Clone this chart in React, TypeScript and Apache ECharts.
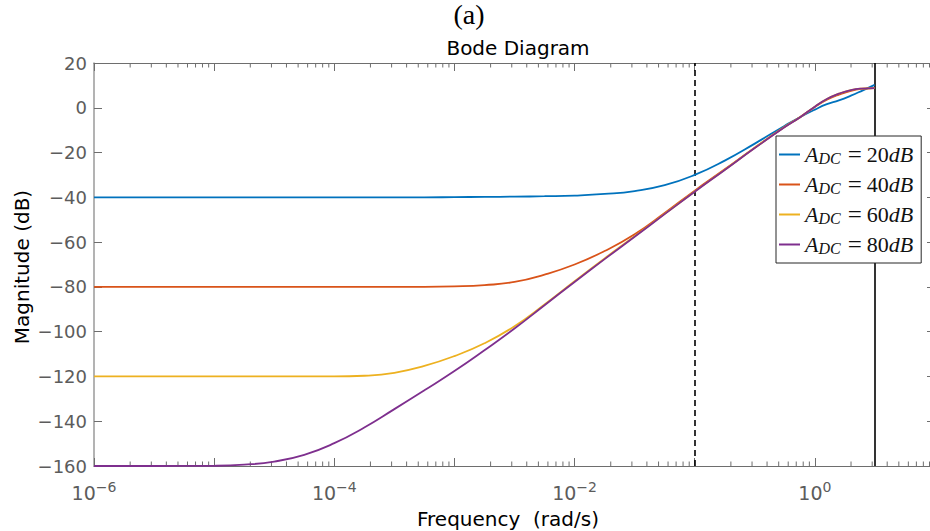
import React, { useEffect, useRef } from 'react';
import * as echarts from 'echarts';

// Frequencies (rad/s) at which magnitudes were read
const freq = [1e-6, 3.162e-6, 1e-5, 1.778e-5, 3.162e-5, 5.623e-5, 1e-4, 1.778e-4, 3.162e-4, 5.623e-4, 1e-3, 1.778e-3, 3.162e-3, 5.623e-3, 1e-2, 1.778e-2, 3.162e-2, 5.623e-2, 0.1, 0.1778, 0.3162, 0.5623, 0.75, 1, 1.259, 1.585, 1.995, 2.512, 3.1416];

const magA20 = [-40, -40, -40, -40, -40, -40, -40, -40, -40, -40, -39.9, -39.8, -39.7, -39.5, -39.2, -38.5, -37.2, -34.6, -30.0, -23.6, -16.0, -8.0, -4.2, -0.8, 1.6, 3.3, 5.4, 7.8, 10.2];
const magA40 = [-80, -80, -80, -80, -80, -80, -80, -80, -80, -80, -79.8, -79.2, -77.8, -74.5, -70.0, -64.0, -56.5, -47.0, -37.0, -27.5, -17.8, -8.5, -4.2, 0.4, 3.6, 5.9, 7.6, 8.5, 8.8];
const magA60 = [-120, -120, -120, -120, -120, -120, -120, -119.7, -118.4, -115.3, -110.9, -105.2, -97.6, -87.9, -77.5, -67.3, -57.4, -47.4, -37.4, -27.7, -17.9, -8.5, -4.3, 0.5, 3.9, 6.3, 7.9, 8.6, 8.8];
const magA80 = [-160, -160, -159.9, -159.4, -158.0, -155.0, -149.8, -142.8, -134.6, -126.2, -117.6, -108.3, -98.6, -88.2, -77.8, -67.6, -57.6, -47.5, -37.5, -27.8, -18.0, -8.6, -4.3, 0.5, 3.9, 6.3, 7.9, 8.6, 8.8];

const seriesNames = ['A_DC = 20dB', 'A_DC = 40dB', 'A_DC = 60dB', 'A_DC = 80dB'];
const seriesDcGains = ['20', '40', '60', '80'];
const seriesColors = ['#0072BD', '#D95319', '#EDB120', '#7E2F8E'];

const yTicks = [-160, -140, -120, -100, -80, -60, -40, -20, 0, 20];
const xMin = 1e-6;
const xMax = 10;
const dashedFreq = 0.1;
const nyquistFreq = Math.PI;

const minorTickFreqs: number[] = [];
for (let e = -6; e <= 0; e++) {
  for (let k = 2; k <= 9; k++) minorTickFreqs.push(k * Math.pow(10, e));
}

const SANS = 'DejaVu Sans';
const SERIF = 'Liberation Serif';
const AXIS_GRAY = '#6e6e6e';
const LABEL_GRAY = '#5c5c5c';

export default function App() {
  const ref = useRef<HTMLDivElement>(null);
  useEffect(() => {
    if (!ref.current) return;
    const chart = echarts.init(ref.current, undefined, { renderer: 'svg' });
    const allMags = [magA20, magA40, magA60, magA80];

    const lineSeries = allMags.map((mags, i) => ({
      name: seriesNames[i],
      type: 'line',
      xAxisIndex: 0,
      yAxisIndex: 0,
      data: freq.map((f, j) => [f, mags[j]]),
      showSymbol: false,
      symbol: 'none',
      smooth: 0.5,
      lineStyle: { color: seriesColors[i], width: 1.8 },
      itemStyle: { color: seriesColors[i] },
      z: 2 + i,
      ...(i === 0
        ? {
            markLine: {
              silent: true,
              symbol: 'none',
              z: 1,
              label: { show: false },
              data: [
                { xAxis: dashedFreq, lineStyle: { color: '#000', type: [6, 4], width: 1.6 } },
                { xAxis: nyquistFreq, lineStyle: { color: '#000', type: 'solid', width: 1.6 } },
              ],
            },
          }
        : {}),
    }));

    const minorTicks = {
      type: 'custom',
      silent: true,
      clip: false,
      xAxisIndex: 0,
      yAxisIndex: 0,
      data: minorTickFreqs.map((f) => [f]),
      renderItem: (params: any, api: any) => {
        const f = api.value(0);
        const pb = api.coord([f, yTicks[0]]);
        const pt = api.coord([f, yTicks[yTicks.length - 1]]);
        const st = { stroke: AXIS_GRAY, lineWidth: 1 };
        return {
          type: 'group',
          children: [
            { type: 'line', shape: { x1: pb[0], y1: pb[1], x2: pb[0], y2: pb[1] - 4.5 }, style: st },
            { type: 'line', shape: { x1: pt[0], y1: pt[1], x2: pt[0], y2: pt[1] + 4.5 }, style: st },
          ],
        };
      },
      z: 1,
    };

    const xLabelFmt = (v: number) => {
      const e = Math.round(Math.log10(v));
      if (e % 2 !== 0) return '';
      return `{b|10}{s|${e < 0 ? '−' : ''}${Math.abs(e)}}`;
    };

    const xAxisCommon = {
      type: 'log',
      logBase: 10,
      min: xMin,
      max: xMax,
      splitNumber: 7,
      splitLine: { show: false },
      axisTick: { show: true, inside: true, length: 8, lineStyle: { color: AXIS_GRAY, width: 1 } },
      axisLine: { show: true, onZero: false, lineStyle: { color: AXIS_GRAY, width: 1 } },
    };
    const yAxisCommon = {
      type: 'value',
      min: yTicks[0],
      max: yTicks[yTicks.length - 1],
      interval: 20,
      splitLine: { show: false },
      axisTick: { show: true, inside: true, length: 8, lineStyle: { color: AXIS_GRAY, width: 1 } },
    };

    chart.setOption({
      animation: false,
      backgroundColor: '#fff',
      grid: { left: 94, top: 63, width: 841, height: 403, containLabel: false, outerBoundsMode: 'none' },
      xAxis: [
        {
          ...xAxisCommon,
          position: 'bottom',
          axisLabel: {
            show: true,
            margin: 14,
            formatter: xLabelFmt,
            rich: {
              b: { fontFamily: SANS, fontSize: 19, color: LABEL_GRAY, lineHeight: 26 },
              s: { fontFamily: SANS, fontSize: 14, color: LABEL_GRAY, lineHeight: 12, verticalAlign: 'top' },
            },
          },
        },
        { ...xAxisCommon, position: 'top', axisLabel: { show: false } },
      ],
      yAxis: [
        {
          ...yAxisCommon,
          position: 'left',
          axisLine: { show: true, onZero: false, lineStyle: { color: '#9a9a9a', width: 1.5 } },
          axisLabel: {
            show: true,
            margin: 7,
            fontFamily: SANS,
            fontSize: 18,
            color: LABEL_GRAY,
            formatter: (v: number) => (v < 0 ? '−' + Math.abs(v) : String(v)),
          },
        },
        {
          ...yAxisCommon,
          position: 'right',
          axisLine: { show: true, onZero: false, lineStyle: { color: AXIS_GRAY, width: 1 } },
          axisLabel: { show: false },
        },
      ],
      legend: {
        show: true,
        orient: 'vertical',
        left: 776,
        top: 136,
        z: 10,
        padding: [6, 8, 6, 3],
        itemGap: 5,
        itemWidth: 21,
        itemHeight: 2,
        icon: 'rect',
        selectedMode: false,
        backgroundColor: '#fff',
        borderColor: '#262626',
        borderWidth: 1,
        borderRadius: 0,
        data: seriesNames,
        formatter: (name: string) => {
          const idx = seriesNames.indexOf(name);
          return `{i|A}{s|DC}{e|=}{n|${seriesDcGains[idx]}}{i|dB}`;
        },
        textStyle: {
          rich: {
            i: { fontFamily: SERIF, fontStyle: 'italic', fontSize: 22, lineHeight: 20, color: '#111' },
            s: { fontFamily: SERIF, fontStyle: 'italic', fontSize: 16, lineHeight: 20, padding: [8, 1, 0, 0], color: '#111' },
            e: { fontFamily: SERIF, fontSize: 25, lineHeight: 20, color: '#111', padding: [0, 5, 0, 6] },
            n: { fontFamily: SERIF, fontSize: 22, lineHeight: 20, color: '#111' },
          },
        },
      },
      graphic: [
        { type: 'text', x: 469, y: 14, style: { text: '(a)', font: `28px "${SERIF}"`, fill: '#000', align: 'center', verticalAlign: 'middle' } },
        { type: 'text', x: 518, y: 48, style: { text: 'Bode Diagram', font: `20px "${SANS}"`, fill: '#000', align: 'center', verticalAlign: 'middle' } },
        { type: 'text', x: 508, y: 519, style: { text: 'Frequency  (rad/s)', font: `20px "${SANS}"`, fill: '#000', align: 'center', verticalAlign: 'middle' } },
        { type: 'text', x: 22, y: 267, rotation: Math.PI / 2, style: { text: 'Magnitude (dB)', font: `20px "${SANS}"`, fill: '#000', align: 'center', verticalAlign: 'middle' } },
      ],
      series: [minorTicks, ...lineSeries],
    });
    return () => chart.dispose();
  }, []);

  return (
    <div
      ref={ref}
      style={{ position: 'fixed', left: 0, top: 0, width: 930, height: 531, background: '#fff' }}
    />
  );
}
